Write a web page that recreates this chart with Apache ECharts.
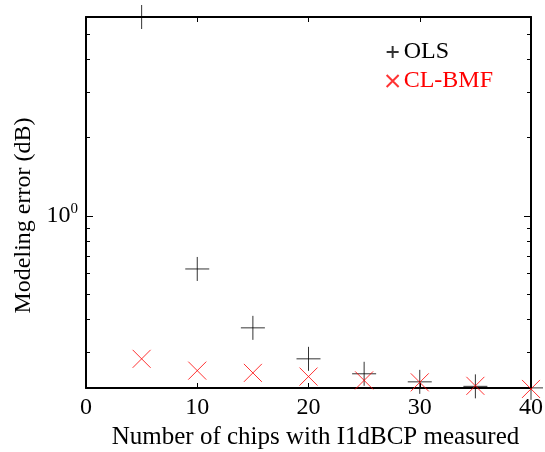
<!DOCTYPE html>
<html>
<head>
<meta charset="utf-8">
<script src="https://cdn.jsdelivr.net/npm/echarts@6/dist/echarts.min.js"></script>
<style>
  html, body { margin: 0; padding: 0; background: #fff; }
  #main { width: 545px; height: 452px; }
</style>
</head>
<body>
<div id="main"></div>
<script>
// data
var chips = [5, 10, 15, 20, 25, 30, 35, 40];
var olsErr = [5.82, 0.625, 0.371, 0.282, 0.247, 0.230, 0.221, 0.218];
var bmfErr = [0.282, 0.254, 0.249, 0.241, 0.233, 0.229, 0.222, 0.216];
var yMajor = [1];
var yMinor = [0.3, 0.4, 0.5, 0.6, 0.7, 0.8, 0.9, 2, 3, 4, 5];
var yMin = 0.2178, yMax = 5.82;

var font = 'Liberation Serif';
var plusIcon = 'path://M0,10L20,10M10,0L10,20';
var crossIcon = 'path://M0,0L20,20M20,0L0,20';

function pairs(xs, ys) {
  return xs.map(function (x, i) { return [x, ys[i]]; });
}

// one log y axis: major or minor ticks, left or right
function yAx(pos, ticks, len, withLine, withLabel) {
  return {
    type: 'log',
    logBase: 10,
    min: yMin,
    max: yMax,
    position: pos,
    name: withLabel ? 'Modeling error (dB)' : '',
    nameLocation: 'middle',
    nameGap: 50,
    nameTextStyle: { fontFamily: font, fontSize: 24, color: '#000', padding: [0, 26, 0, 0] },
    axisLine: { show: withLine, lineStyle: { color: '#000', width: 2 } },
    axisTick: { show: true, inside: true, length: len, customValues: ticks,
      lineStyle: { color: '#000', width: 1 } },
    axisLabel: {
      show: withLabel,
      customValues: yMajor,
      margin: 8,
      formatter: function () { return '{a|10}{b|0}'; },
      rich: {
        a: { fontFamily: font, fontSize: 24, color: '#000' },
        b: { fontFamily: font, fontSize: 15, color: '#000', padding: [0, 0, 13, 0] }
      }
    },
    splitLine: { show: false }
  };
}

var chart = echarts.init(document.getElementById('main'));
chart.setOption({
  backgroundColor: '#fff',
  animation: false,
  grid: { left: 86, top: 17, right: 14, bottom: 64, outerBoundsMode: 'none' },
  legend: {
    right: 47,
    top: 35,
    orient: 'vertical',
    itemGap: 5,
    itemWidth: 12,
    itemHeight: 12,
    data: [
      { name: 'OLS', icon: plusIcon, textStyle: { color: '#000' } },
      { name: 'CL-BMF', icon: crossIcon, textStyle: { color: '#ff0000' } }
    ],
    textStyle: { fontFamily: font, fontSize: 24 }
  },
  xAxis: [
    {
      type: 'value',
      min: 0, max: 40, interval: 10,
      position: 'bottom',
      name: 'Number of chips with I1dBCP measured',
      nameLocation: 'middle',
      nameGap: 34,
      nameTextStyle: { fontFamily: font, fontSize: 25, color: '#000', padding: [0, 0, 0, 14] },
      axisLine: { lineStyle: { color: '#000', width: 2 } },
      axisTick: { inside: true, length: 5, lineStyle: { color: '#000' } },
      axisLabel: { fontFamily: font, fontSize: 24, color: '#000', margin: 8 },
      splitLine: { show: false }
    },
    {
      type: 'value',
      min: 0, max: 40, interval: 10,
      position: 'top',
      axisLine: { lineStyle: { color: '#000', width: 2 } },
      axisTick: { inside: true, length: 5, lineStyle: { color: '#000' } },
      axisLabel: { show: false },
      splitLine: { show: false }
    }
  ],
  yAxis: [
    yAx('left', yMajor, 7, true, true),
    yAx('left', yMinor, 4, false, false),
    yAx('right', yMajor, 7, true, false),
    yAx('right', yMinor, 4, false, false)
  ],
  series: [
    {
      name: 'OLS',
      type: 'scatter',
      clip: false,
      symbol: plusIcon,
      symbolSize: 24,
      itemStyle: { color: 'transparent', borderColor: '#000', borderWidth: 1 },
      data: pairs(chips, olsErr),
      z: 3
    },
    {
      name: 'CL-BMF',
      type: 'scatter',
      clip: false,
      symbol: crossIcon,
      symbolSize: 18,
      itemStyle: { color: 'transparent', borderColor: '#ff0000', borderWidth: 1 },
      data: pairs(chips, bmfErr),
      z: 4
    }
  ]
});
</script>
</body>
</html>
